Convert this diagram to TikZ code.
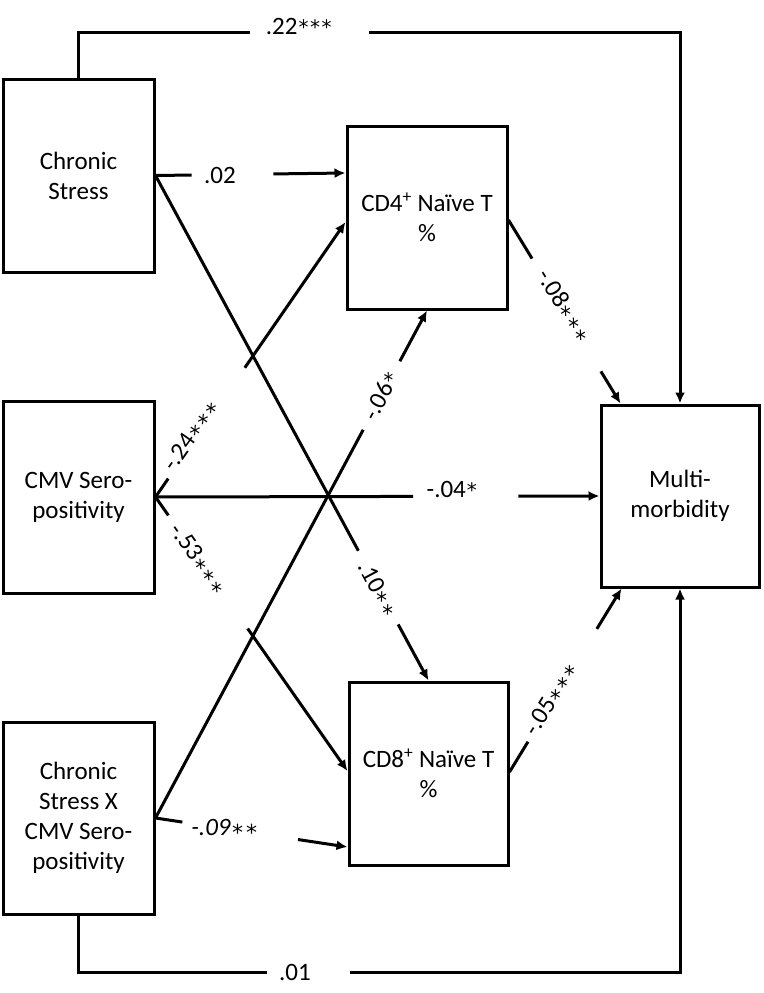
\documentclass[tikz,border=0pt]{standalone}
\usepackage{fontspec}
\setmainfont{Carlito}
\newfontfamily\astfont{DejaVu Sans}
\usetikzlibrary{arrows.meta,calc}
\newcommand\gapconn[4]{%
  \draw[conn] (#1) -- ($(#1)!#3!(#2)$);
  \draw[arr] ($(#1)!#4!(#2)$) -- (#2);}
% mid-height asterisk
\newcommand\mst{\kern1.5pt\raisebox{-5pt}{\fontsize{22}{22}\astfont *}\kern1.5pt}
% raised asterisk
\newcommand\hst{\kern1pt{\fontsize{20}{20}\astfont *}\kern0.5pt}
\begin{document}
\begin{tikzpicture}[x=1pt,y=-1pt,
  box/.style={draw, line width=3pt, align=center, inner sep=0pt,
    font=\fontsize{25}{30}\selectfont},
  conn/.style={line width=3pt},
  arr/.style={conn, -{Latex[length=11pt,width=10pt]}},
  lab/.style={font=\fontsize{25}{30}\selectfont, inner sep=0pt}]
\useasboundingbox (0,0) rectangle (763,993);

% boxes
\node[box, minimum width=151pt, minimum height=193pt] (cs) at (78.5,175.5) {Chronic\\Stress};
\node[box, minimum width=151pt, minimum height=192pt] (cmv) at (78.5,497) {CMV Sero-\\positivity};
\node[box, minimum width=151pt, minimum height=192pt] (ix) at (78.5,818) {Chronic\\Stress X\\CMV Sero-\\positivity};
\node[box, minimum width=160pt, minimum height=183pt] (cd4) at (427,217.5) {CD4\textsuperscript{+} Naïve T\\\%};
\node[box, minimum width=159pt, minimum height=183pt] (cd8) at (428.5,773.5) {CD8\textsuperscript{+} Naïve T\\\%};
\node[box, minimum width=158pt, minimum height=182pt] (mm) at (680,496) {Multi-\\morbidity};

% anchor points
\coordinate (cd4a) at ([yshift=44.5pt]cd4.west);
\coordinate (cd4b) at ([yshift=-4.5pt]cd4.west);
\coordinate (cd8a) at ([yshift=2.5pt]cd8.west);
\coordinate (cd8b) at ([yshift=-73.5pt]cd8.west);
\coordinate (cd4r) at ([yshift=-2.5pt]cd4.east);
\coordinate (cd8r) at ([yshift=1.5pt]cd8.east);
\coordinate (mmtl) at ([xshift=21pt]mm.north west);
\coordinate (mmbl) at ([xshift=22pt]mm.south west);
\coordinate (topL) at (78.5,32);
\coordinate (topg1) at (250,32);
\coordinate (topg2) at (369,32);
\coordinate (topR) at (680,32);
\coordinate (botL) at (78.5,972);
\coordinate (botg1) at (267,972);
\coordinate (botg2) at (350,972);
\coordinate (botR) at (680,972);

% top and bottom direct paths
\draw[conn] (cs.north) -- (topL) -- (topg1);
\draw[arr] (topg2) -- (topR) -- (mm.north);
\node[lab, anchor=base] (l22) at (299,34) {.22\hst\hst\hst};
\draw[conn] (ix.south) -- (botL) -- (botg1);
\draw[arr] (botg2) -- (botR) -- (mm.south);
\node[lab, anchor=base] (l01) at (295,980) {.01};

% paths with gaps
\gapconn{cs.east}{cd4a}{0.19}{0.62}
\node[lab, anchor=base] (l02) at (220,183) {.02};

\gapconn{cs.east}{cd8.north}{0.743}{0.889}
\node[lab, rotate=-61.5] (l10) at (377,590) {.10\mst\mst};

\gapconn{cmv.east}{cd4b}{0.067}{0.47}
\node[lab, rotate=54.9] (l24) at (193,436) {-.24\mst\mst\mst};

\gapconn{cmv.east}{cd8a}{0.067}{0.48}
\node[lab, rotate=-54.8] (l53) at (197,560) {-.53\mst\mst\mst};

\gapconn{ix.east}{cd4.south}{0.765}{0.90}
\node[lab, rotate=61.7] (l06) at (381,396) {-.06\hst};

\gapconn{cmv.east}{mm.west}{0.58}{0.817}
\node[lab, anchor=base] (l04) at (452,497) {-.04\hst};

\gapconn{ix.east}{cd8b}{0.14}{0.742}
\node[lab, anchor=base, font=\fontsize{25}{30}\selectfont\itshape] (l09) at (225,835) {-.09\mst\mst};

\gapconn{cd4r}{mmtl}{0.21}{0.825}
\node[lab, rotate=-58.4] (l08) at (563,307) {-.08\mst\mst\mst};

\gapconn{cd8r}{mmbl}{0.165}{0.78}
\node[lab, rotate=58.1] (l05) at (553,700) {-.05\mst\mst\mst};
\end{tikzpicture}
\end{document}
